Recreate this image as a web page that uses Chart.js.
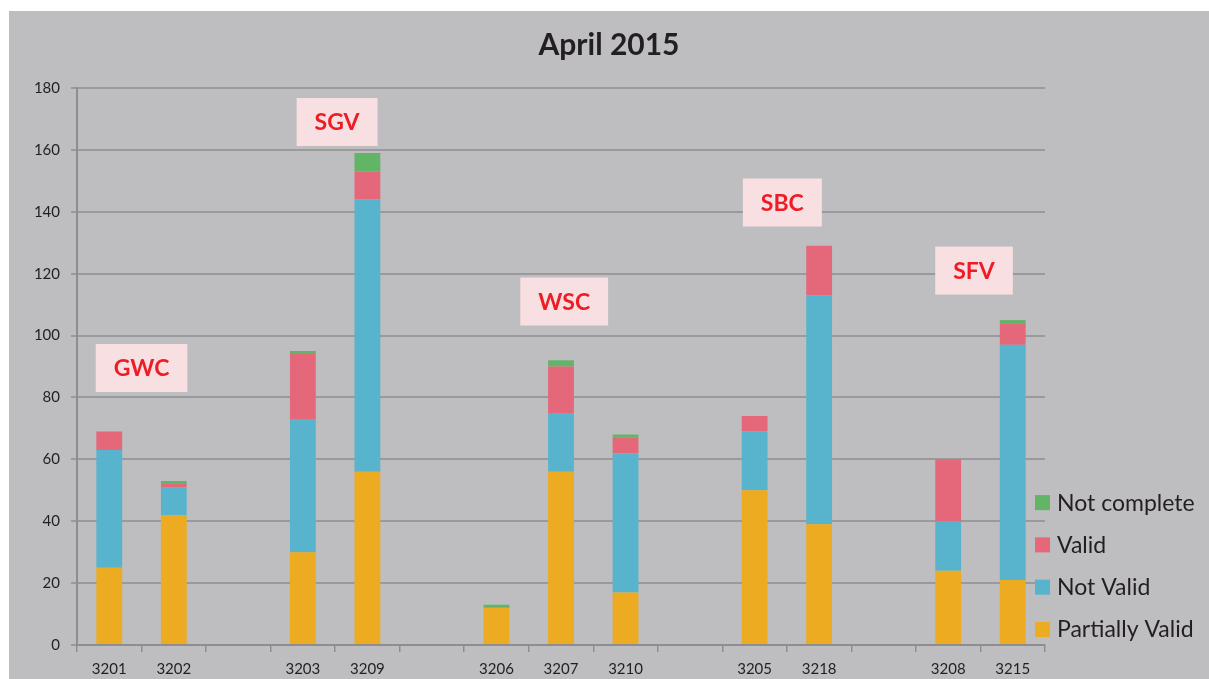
<!DOCTYPE html>
<html>
<head>
<meta charset="utf-8">
<script src="https://cdn.jsdelivr.net/npm/chart.js@4"></script>
<style>
  body { margin: 0; background: #fff; }
  #wrap { position: absolute; left: 9px; top: 11px; width: 1200px; height: 668px; background: #bebdc0; }
</style>
</head>
<body>
<div id="wrap"><canvas id="chart" width="1200" height="668"></canvas></div>
<script>
// categories (empty strings are the gaps between groups)
const categories = ["3201", "3202", "", "3203", "3209", "", "3206", "3207", "3210", "", "3205", "3218", "", "3208", "3215"];

const partiallyValid = [25, 42, null, 30, 56, null, 12, 56, 17, null, 50, 39, null, 24, 21];
const notValid       = [38, 9, null, 43, 88, null, 0, 19, 45, null, 19, 74, null, 16, 76];
const valid          = [6, 1, null, 21, 9, null, 0, 15, 5, null, 5, 16, null, 20, 7];
const notComplete    = [0, 1, null, 1, 6, null, 1, 2, 1, null, 0, 0, null, 0, 1];

const yTicks = [0, 20, 40, 60, 80, 100, 120, 140, 160, 180];

// group labels: text, category position, value position
const groupNames = ["GWC", "SGV", "WSC", "SBC", "SFV"];
const groupX = [0.5, 3.53, 7.05, 10.43, 13.4];
const groupY = [89.5, 169, 111, 143, 121];

const font = "Lato, 'Open Sans', sans-serif";

// pink boxes with the region names
const groupLabels = {
    id: "groupLabels",
    afterDatasetsDraw(chart) {
        const ctx = chart.ctx;
        const xs = chart.scales.x, ys = chart.scales.y;
        ctx.save();
        ctx.font = "bold 23px " + font;
        ctx.textAlign = "center";
        ctx.textBaseline = "middle";
        groupNames.forEach((name, i) => {
            const cx = xs.getPixelForValue(groupX[i]);
            const cy = ys.getPixelForValue(groupY[i]);
            const w = ctx.measureText(name).width + 36;
            const h = 48;
            ctx.fillStyle = "#f8e0e2";
            ctx.fillRect(cx - w / 2, cy - h / 2, w, h);
            ctx.fillStyle = "#ee1c25";
            ctx.fillText(name, cx, cy + 1);
        });
        ctx.restore();
    }
};

// legend in the bottom right corner, last series on top
const sideLegend = {
    id: "sideLegend",
    afterDraw(chart) {
        const ctx = chart.ctx;
        const area = chart.chartArea;
        const sets = chart.data.datasets;
        ctx.save();
        ctx.font = "23px " + font;
        ctx.textBaseline = "middle";
        ctx.textAlign = "left";
        sets.forEach((ds, i) => {
            const y = area.bottom - 16 - i * 42.3;
            const x = area.right - 10;
            ctx.fillStyle = ds.backgroundColor;
            ctx.fillRect(x, y - 7, 15, 15);
            ctx.fillStyle = "#231f20";
            ctx.fillText(ds.label, x + 22, y + 1);
        });
        ctx.restore();
    }
};

new Chart(document.getElementById("chart"), {
    type: "bar",
    data: {
        labels: categories,
        datasets: [
            { label: "Partially Valid", data: partiallyValid, backgroundColor: "#ecab20" },
            { label: "Not Valid", data: notValid, backgroundColor: "#57b4cc" },
            { label: "Valid", data: valid, backgroundColor: "#e5677a" },
            { label: "Not complete", data: notComplete, backgroundColor: "#62b466" }
        ]
    },
    options: {
        responsive: false,
        animation: false,
        datasets: { bar: { categoryPercentage: 1, barPercentage: 0.4 } },
        plugins: {
            title: {
                display: true,
                text: "April 2015",
                color: "#231f20",
                font: { family: font, size: 30, weight: "bold" },
                padding: { top: 16, bottom: 25 }
            },
            legend: { display: false },
            tooltip: { enabled: false }
        },
        scales: {
            x: {
                stacked: true,
                afterFit: axis => { axis.height = 34; },
                grid: { display: true, drawOnChartArea: false, drawTicks: true, tickLength: 7, offset: true, color: "#8e8e90", lineWidth: 1.5 },
                border: { display: true, color: "#8e8e90", width: 2 },
                ticks: { color: "#231f20", font: { family: font, size: 15 }, padding: 8, maxRotation: 0, autoSkip: false }
            },
            y: {
                stacked: true,
                min: 0,
                max: 180,
                afterBuildTicks: axis => { axis.ticks = yTicks.map(v => ({ value: v })); },
                afterFit: axis => { axis.width = 68; },
                grid: { color: "#9a9a9c", lineWidth: 2, tickLength: 6 },
                border: { display: true, color: "#8e8e90", width: 2 },
                ticks: { color: "#231f20", font: { family: font, size: 15 }, padding: 11 }
            },
            // empty axis on the right keeps room for the legend
            side: {
                position: "right",
                display: true,
                afterFit: axis => { axis.width = 164; },
                grid: { display: false },
                border: { display: false },
                ticks: { display: false }
            }
        }
    },
    plugins: [groupLabels, sideLegend]
});
</script>
</body>
</html>
